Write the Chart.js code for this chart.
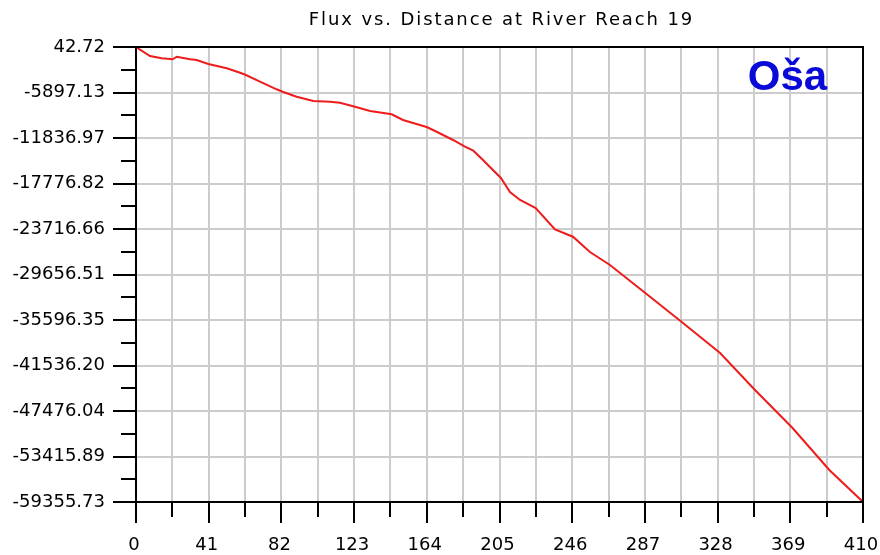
<!DOCTYPE html>
<html>
<head>
<meta charset="utf-8">
<script src="https://cdn.jsdelivr.net/npm/chart.js@4"></script>
<style>
  body { margin: 0; background: #fff; }
  canvas { display: block; }
</style>
</head>
<body>
<canvas id="fluxChart" width="880" height="555"></canvas>
<script>
// data
var distance = [0, 7.9, 14.5, 20.7, 23.0, 30.5, 34.2, 40.8, 51.2, 58.7, 62.0, 69.9, 79.3, 82.7, 90.6,
  100.0, 109.4, 115.0, 123.5, 132.0, 144.2, 150.6, 164.3, 169.8, 178.8, 185.5, 190.2, 195.7, 199.6,
  205.8, 210.9, 216.6, 225.4, 236.3, 246.4, 256.0, 267.3, 287.4, 308.3, 329.4, 349.1, 370.4, 391.0, 410];
var flux = [42.72, -1132, -1432, -1563, -1224, -1563, -1654, -2177, -2738, -3312, -3613, -4487, -5479, -5793, -6445,
  -7007, -7098, -7229, -7751, -8312, -8743, -9487, -10440, -11054, -12098, -12973, -13495, -14709, -15622,
  -17059, -18886, -19931, -20975, -23756, -24722, -26719, -28416, -32111, -35949, -39904, -44734, -49734, -55178, -59355.73];

var xTickLabels = ['0', '41', '82', '123', '164', '205', '246', '287', '328', '369', '410'];
var yTickLabels = ['42.72', '-5897.13', '-11836.97', '-17776.82', '-23716.66', '-29656.51',
  '-35596.35', '-41536.20', '-47476.04', '-53415.89', '-59355.73'];

var chartTitle = 'Flux vs. Distance at River Reach 19';
var riverName = 'Oša';
var riverNamePos = { x: 345, y: -5571 };

// major values + minor midpoints, ascending
var yMajor = yTickLabels.map(parseFloat).reverse();
var yTicks = [];
yMajor.forEach(function(v, i) {
    yTicks.push(v);
    if (i < yMajor.length - 1) yTicks.push((v + yMajor[i + 1]) / 2);
});
var xMajor = xTickLabels.map(parseFloat);

var points = distance.map(function(d, i) { return { x: d, y: flux[i] }; });

var tickFont = { family: '"DejaVu Sans"', size: 18 };

var extras = {
    id: 'extras',
    afterDraw: function(chart) {
        var c = chart.ctx, a = chart.chartArea;
        var xs = chart.scales.x, ys = chart.scales.y;
        c.save();
        // minor tick marks
        c.strokeStyle = '#000';
        c.lineWidth = 2;
        c.beginPath();
        yTicks.forEach(function(v, i) {
            if (i % 2 === 1) {
                var py = Math.round(ys.getPixelForValue(v));
                c.moveTo(a.left - 15, py);
                c.lineTo(a.left, py);
            }
        });
        for (var k = 0; k < xMajor.length - 1; k++) {
            var px = Math.round(xs.getPixelForValue((xMajor[k] + xMajor[k + 1]) / 2));
            c.moveTo(px, a.bottom);
            c.lineTo(px, a.bottom + 15);
        }
        c.stroke();
        // frame
        c.strokeRect(a.left, a.top, a.right - a.left, a.bottom - a.top);
        // title
        c.fillStyle = '#000';
        c.font = '18px "DejaVu Sans"';
        c.letterSpacing = '1.9px';
        c.textAlign = 'center';
        c.textBaseline = 'alphabetic';
        c.fillText(chartTitle, (a.left + a.right) / 2 + 2, 25);
        c.letterSpacing = '0px';
        // river name
        c.fillStyle = '#0a0ad8';
        c.font = 'bold 42px "Liberation Sans"';
        c.textAlign = 'left';
        c.fillText(riverName, xs.getPixelForValue(riverNamePos.x), ys.getPixelForValue(riverNamePos.y));
        c.restore();
    }
};

var ctx = document.getElementById('fluxChart').getContext('2d');
var fluxChart = new Chart(ctx, {
    type: 'line',
    data: {
        datasets: [{
            data: points,
            borderColor: '#ee1c1c',
            borderWidth: 2,
            pointRadius: 0,
            tension: 0,
            fill: false
        }]
    },
    options: {
        responsive: false,
        animation: false,
        layout: { padding: { left: 0, top: 47, right: 17, bottom: 0 } },
        plugins: {
            legend: { display: false },
            tooltip: { enabled: false },
            title: { display: false }
        },
        scales: {
            x: {
                type: 'linear',
                min: 0,
                max: 410,
                afterFit: function(s) {
                    s.height = 53;
                    s.paddingLeft = 0;
                    s.paddingRight = 0;
                },
                ticks: {
                    stepSize: 20.5,
                    autoSkip: false,
                    maxRotation: 0,
                    padding: 12,
                    labelOffset: -2,
                    color: '#000',
                    font: tickFont,
                    callback: function(value) {
                        var i = xMajor.indexOf(value);
                        return i >= 0 ? xTickLabels[i] : '';
                    }
                },
                grid: {
                    color: '#cccccc',
                    lineWidth: 2,
                    tickLength: 21,
                    tickColor: function(c) { return c.index % 2 === 0 ? '#000' : 'rgba(0,0,0,0)'; }
                },
                border: { color: '#000', width: 2 }
            },
            y: {
                min: yMajor[0],
                max: yMajor[yMajor.length - 1],
                afterFit: function(s) {
                    s.width = 136;
                    s.paddingTop = 0;
                    s.paddingBottom = 0;
                },
                afterBuildTicks: function(s) {
                    s.ticks = yTicks.map(function(v) { return { value: v }; });
                },
                ticks: {
                    padding: 8,
                    color: '#000',
                    font: tickFont,
                    callback: function(value, index) {
                        return index % 2 === 0 ? yTickLabels[yTickLabels.length - 1 - index / 2] : '';
                    }
                },
                grid: {
                    color: '#cccccc',
                    lineWidth: 2,
                    tickLength: 23,
                    tickColor: function(c) { return c.index % 2 === 0 ? '#000' : 'rgba(0,0,0,0)'; }
                },
                border: { color: '#000', width: 2 }
            }
        }
    },
    plugins: [extras]
});
</script>
</body>
</html>
